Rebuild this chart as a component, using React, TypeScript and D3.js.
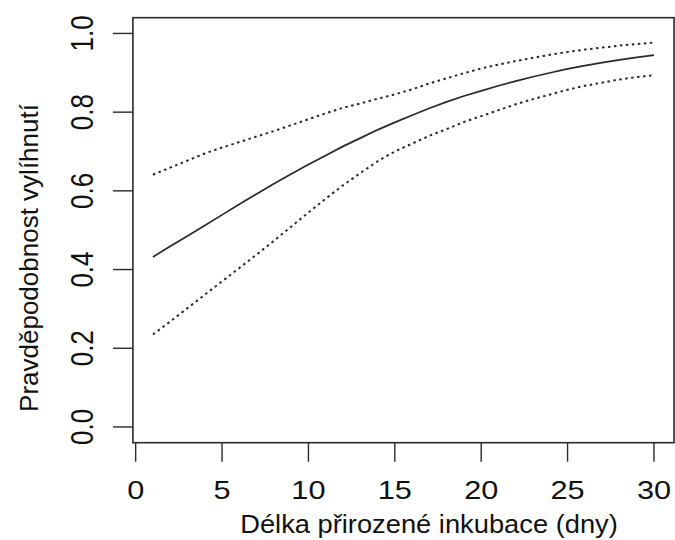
import React from 'react';
import * as d3 from 'd3';

// incubation length (days)
const days = [1, 2, 3, 4, 5, 6, 7, 8, 9, 10, 11, 12, 13, 14, 15, 16, 17, 18, 19, 20, 21, 22, 23, 24, 25, 26, 27, 28, 29, 30];

// fitted probability of hatching
const fit = [0.432, 0.459, 0.485, 0.512, 0.539, 0.566, 0.592, 0.618, 0.643, 0.667, 0.69, 0.713, 0.734, 0.755, 0.774, 0.792, 0.81, 0.826, 0.841, 0.854, 0.867, 0.879, 0.89, 0.9, 0.91, 0.918, 0.926, 0.933, 0.939, 0.945];

// confidence band
const upper = [0.641, 0.659, 0.677, 0.695, 0.71, 0.724, 0.738, 0.752, 0.767, 0.782, 0.797, 0.811, 0.822, 0.834, 0.845, 0.858, 0.873, 0.886, 0.899, 0.911, 0.921, 0.93, 0.938, 0.946, 0.953, 0.959, 0.964, 0.969, 0.973, 0.977];
const lower = [0.235, 0.268, 0.302, 0.336, 0.37, 0.404, 0.438, 0.473, 0.509, 0.545, 0.58, 0.614, 0.645, 0.675, 0.7, 0.72, 0.74, 0.757, 0.775, 0.79, 0.805, 0.82, 0.833, 0.845, 0.857, 0.867, 0.875, 0.883, 0.889, 0.894];

const xTicks = [0, 5, 10, 15, 20, 25, 30];
const yTicks = [0, 0.2, 0.4, 0.6, 0.8, 1.0];

const xLabel = 'Délka přirozené inkubace (dny)';
const yLabel = 'Pravděpodobnost vylíhnutí';

const W = 675;
const H = 540;
const font = '"Liberation Sans", Arial, sans-serif';
const ink = '#2a2a2a';

export default function App() {
  const box = { left: 132.9, right: 674, top: 17.7, bottom: 442.7 };

  const x = d3.scaleLinear().domain([-0.16, 31.16]).range([box.left, box.right]);
  const y = d3.scaleLinear().domain([-0.04, 1.04]).range([box.bottom, box.top]);

  const line = (vals: number[]) =>
    d3
      .line<number>()
      .x((_, i) => x(days[i]))
      .y((d) => y(d))(vals) as string;

  return (
    <svg
      width={W}
      height={H}
      style={{ position: 'absolute', left: 0, top: 0, background: '#fff' }}
    >
      <rect x={0} y={0} width={W} height={H} fill='#fff' />

      <rect
        x={box.left}
        y={box.top}
        width={box.right - box.left}
        height={box.bottom - box.top}
        fill='none'
        stroke={ink}
        strokeWidth={1.6}
      />

      {/* x axis */}
      <g>
        {xTicks.map((t) => (
          <g key={t}>
            <line x1={x(t)} x2={x(t)} y1={box.bottom} y2={box.bottom + 19} stroke={ink} strokeWidth={1.4} />
            <text
              transform={`translate(${x(t)},498.5) scale(1.18,1)`}
              textAnchor='middle'
              fontFamily={font}
              fontSize={26}
              fill='#111'
            >
              {t}
            </text>
          </g>
        ))}
      </g>

      {/* y axis */}
      <g>
        {yTicks.map((t) => (
          <g key={t}>
            <line x1={box.left - 20} x2={box.left} y1={y(t)} y2={y(t)} stroke={ink} strokeWidth={1.4} />
            <text
              transform={`translate(93,${y(t)}) scale(1.2,1) rotate(-90)`}
              textAnchor='middle'
              fontFamily={font}
              fontSize={26}
              fill='#111'
            >
              {t.toFixed(1)}
            </text>
          </g>
        ))}
      </g>

      <path d={line(upper)} fill='none' stroke={ink} strokeWidth={2} strokeDasharray='2.5,3.5' />
      <path d={line(lower)} fill='none' stroke={ink} strokeWidth={2} strokeDasharray='2.5,3.5' />
      <path d={line(fit)} fill='none' stroke={ink} strokeWidth={1.7} />

      <text
        transform={`translate(429,533) scale(1.05,1)`}
        textAnchor='middle'
        fontFamily={font}
        fontSize={26}
        fill='#111'
      >
        {xLabel}
      </text>
      <text
        transform={`translate(37.5,258) rotate(-90)`}
        textAnchor='middle'
        fontFamily={font}
        fontSize={26}
        fill='#111'
      >
        {yLabel}
      </text>
    </svg>
  );
}
